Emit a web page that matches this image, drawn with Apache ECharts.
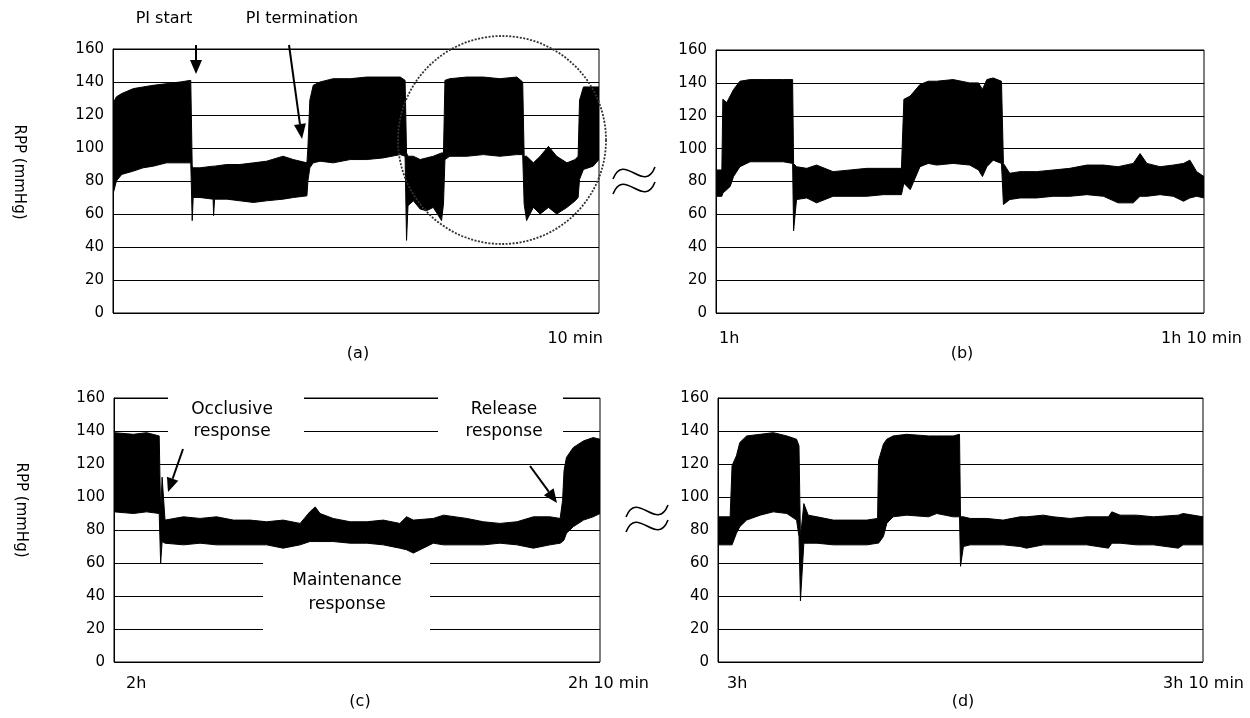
<!DOCTYPE html>
<html>
<head>
<meta charset="utf-8">
<script src="https://cdn.jsdelivr.net/npm/echarts@6/dist/echarts.min.js"></script>
<style>html,body{margin:0;padding:0;background:#fff}#chart{width:1250px;height:718px}</style>
</head>
<body>
<div id="chart"></div>
<script>
// ---- Data: time (min within each 10-min window), upper / lower envelope of RPP (mmHg) ----
const yTicks = [0, 20, 40, 60, 80, 100, 120, 140, 160];

const tA  = [0,0.07,0.18,0.42,0.62,0.83,1.10,1.38,1.60,1.63,1.65,1.79,2.06,2.07,2.09,2.34,2.61,2.89,3.16,3.50,3.71,3.99,4.01,4.05,4.12,4.26,4.53,4.88,5.22,5.56,5.91,6.01,6.04,6.07,6.18,6.32,6.45,6.59,6.76,6.80,6.83,6.93,7.28,7.62,7.96,8.31,8.43,8.46,8.51,8.65,8.79,8.96,9.13,9.34,9.51,9.57,9.60,9.68,9.88,10];
const hiA = [127,131,133,136,137,138,139,140,141,89,88,88,89,89,89,90,90,91,92,95,93,91,100,129,138,140,142,142,143,143,143,141,97,95,95,93,94,95,97,97,141,142,143,143,142,143,140,95,95,91,95,101,95,91,93,95,129,137,137,137];
const loA = [72,80,84,86,88,89,91,91,91,56,70,70,69,59,69,69,68,67,68,69,70,71,80,88,91,92,91,93,93,94,96,95,44,65,68,63,62,64,56,66,93,95,95,96,95,96,96,66,56,64,60,64,60,64,68,70,81,87,89,93];

const tB  = [0,0.12,0.14,0.22,0.29,0.36,0.49,0.70,1.04,1.38,1.57,1.59,1.65,1.86,2.06,2.40,2.75,3.09,3.43,3.80,3.85,3.98,4.18,4.35,4.52,4.86,5.20,5.38,5.46,5.55,5.68,5.85,5.89,6.02,6.23,6.57,6.91,7.25,7.60,7.94,8.24,8.55,8.69,8.83,9.10,9.37,9.58,9.71,9.85,10];
const hiB = [87,87,130,128,132,136,141,142,142,142,142,91,89,88,90,86,87,88,88,88,130,132,139,141,141,142,140,140,136,142,143,141,91,85,86,86,87,88,90,90,89,91,97,91,89,90,91,93,86,83];
const loB = [71,71,73,75,77,83,89,92,92,92,91,50,69,70,67,71,71,71,72,72,79,75,89,91,90,91,90,87,83,89,93,91,66,69,70,70,71,71,72,71,67,67,71,71,72,71,68,70,71,70];

const tC  = [0,0.40,0.67,0.93,0.96,0.99,1.05,1.43,1.77,2.11,2.46,2.80,3.14,3.48,3.83,4.03,4.14,4.24,4.51,4.86,5.20,5.54,5.88,6.02,6.16,6.57,6.78,7.26,7.60,7.94,8.29,8.63,8.97,9.18,9.23,9.26,9.31,9.45,9.66,9.86,10];
const hiC = [139,138,139,137,90,112,86,88,87,88,86,86,85,86,84,91,94,90,87,85,85,86,84,88,86,87,89,87,85,84,85,88,88,87,98,116,124,130,134,136,135];
const loC = [91,90,91,90,60,73,72,71,72,71,71,71,71,69,71,73,73,73,73,72,72,71,69,68,66,72,71,71,71,72,71,69,71,72,73,74,78,82,86,88,90];

const tD  = [0,0.25,0.29,0.38,0.45,0.59,0.87,1.14,1.42,1.62,1.67,1.70,1.77,1.86,2.04,2.38,2.72,3.07,3.29,3.31,3.41,3.48,3.61,3.89,4.34,4.51,4.85,4.98,5.00,5.06,5.20,5.54,5.88,6.23,6.36,6.71,6.91,7.26,7.60,8.05,8.12,8.29,8.63,8.98,9.49,9.59,10];
const hiD = [88,88,119,125,133,137,138,139,137,135,131,75,96,89,88,86,86,86,87,122,132,135,137,138,137,137,137,138,88,88,87,87,86,88,88,89,88,87,88,88,91,89,89,88,89,90,88];
const loD = [71,71,71,78,82,86,89,91,90,86,76,37,72,72,72,71,71,71,72,72,76,84,88,89,88,90,88,88,58,70,71,71,71,70,69,71,71,71,71,69,72,72,71,71,69,71,71];

const startLabels = ['', '1h', '2h', '3h'];
const endLabels = ['10 min', '1h 10 min', '2h 10 min', '3h 10 min'];
const panelLabels = ['(a)', '(b)', '(c)', '(d)'];

// ---- Chart ----
const FONT = 'DejaVu Sans';
const chart = echarts.init(document.getElementById('chart'), null, {renderer: 'canvas'});

const grids = [
  {left: 113, top: 49, width: 486, height: 264},
  {left: 716, top: 50, width: 488, height: 263},
  {left: 114, top: 398, width: 486, height: 264},
  {left: 718, top: 398, width: 485, height: 264}
];
const panels = [[tA, hiA, loA], [tB, hiB, loB], [tC, hiC, loC], [tD, hiD, loD]];

// one filled band per panel: upper envelope forward, lower envelope back
function makeRender(T, H, L) {
  return function (params, api) {
    if (params.dataIndex !== 0) return null;
    const pts = [];
    for (let i = 0; i < T.length; i++) pts.push(api.coord([T[i], H[i]]));
    for (let i = T.length - 1; i >= 0; i--) pts.push(api.coord([T[i], L[i]]));
    return {
      type: 'polygon',
      shape: {points: pts},
      style: {fill: '#000', stroke: '#000', lineWidth: 1}
    };
  };
}

function arrow(x1, y1, x2, y2, head) {
  const ang = Math.atan2(y2 - y1, x2 - x1);
  const hl = head || 13, hw = 6;
  const bx = x2 - hl * Math.cos(ang), by = y2 - hl * Math.sin(ang);
  const nx = -Math.sin(ang) * hw, ny = Math.cos(ang) * hw;
  return [
    {type: 'line', z: 100, shape: {x1: x1, y1: y1, x2: bx, y2: by}, style: {stroke: '#000', lineWidth: 2}},
    {type: 'polygon', z: 100, shape: {points: [[x2, y2], [bx + nx, by + ny], [bx - nx, by - ny]]}, style: {fill: '#000'}}
  ];
}

function txt(x, y, s, size, align) {
  return {type: 'text', z: 100, x: x, y: y,
    style: {text: s, fill: '#000', font: (size || 15) + 'px "' + FONT + '"', textAlign: align || 'center', textVerticalAlign: 'middle'}};
}

function wave(x0, y0) {
  return {type: 'bezierCurve', z: 100,
    shape: {x1: x0, y1: y0 + 6, cpx1: x0 + 11, cpy1: y0 - 22, cpx2: x0 + 31, cpy2: y0 + 22, x2: x0 + 42, y2: y0 - 6},
    style: {stroke: '#000', lineWidth: 1.6, fill: null}};
}

const graphics = [];
// y-axis names
[[19, 172], [21, 510]].forEach(function (p) {
  graphics.push({type: 'text', z: 100, x: p[0], y: p[1], rotation: -Math.PI / 2,
    style: {text: 'RPP (mmHg)', fill: '#000', font: '15px "' + FONT + '"', textAlign: 'center', textVerticalAlign: 'middle'}});
});
// start/end/panel labels
const startPos = [null, [719, 339], [126, 684], [727, 684]];
const endPos = [[603, 339], [1242, 339], [649, 684], [1244, 684]];
const panelPos = [[358, 354], [962, 354], [360, 702], [963, 702]];
for (let k = 0; k < 4; k++) {
  if (startPos[k]) graphics.push(txt(startPos[k][0], startPos[k][1], startLabels[k], 16, 'left'));
  graphics.push(txt(endPos[k][0], endPos[k][1], endLabels[k], 16, 'right'));
  graphics.push(txt(panelPos[k][0], panelPos[k][1], panelLabels[k], 16, 'center'));
}
// panel (a) annotations
graphics.push(txt(164, 19, 'PI start', 16));
graphics.push(txt(302, 19, 'PI termination', 16));
graphics.push.apply(graphics, arrow(196, 45, 196, 74, 14));
graphics.push.apply(graphics, arrow(289, 45, 302, 139, 15));
graphics.push({type: 'circle', z: 99, shape: {cx: 502, cy: 140, r: 104},
  style: {fill: null, stroke: '#333', lineWidth: 1.8, lineDash: [2, 1.5]}});
// break symbols
graphics.push(wave(613, 173), wave(613, 188));
graphics.push(wave(626, 511), wave(626, 526));
// panel (c) annotations with white boxes hiding the grid lines
graphics.push({type: 'rect', z: 98, shape: {x: 168, y: 392, width: 136, height: 54}, style: {fill: '#fff'}});
graphics.push({type: 'rect', z: 98, shape: {x: 438, y: 392, width: 125, height: 54}, style: {fill: '#fff'}});
graphics.push({type: 'rect', z: 98, shape: {x: 263, y: 557, width: 167, height: 82}, style: {fill: '#fff'}});
graphics.push(txt(232, 410, 'Occlusive', 17), txt(232, 432, 'response', 17));
graphics.push(txt(504, 410, 'Release', 17), txt(504, 432, 'response', 17));
graphics.push(txt(347, 581, 'Maintenance', 17), txt(347, 605, 'response', 17));
graphics.push.apply(graphics, arrow(183, 449, 168, 492, 14));
graphics.push.apply(graphics, arrow(530, 466, 557, 503, 14));

const option = {
  animation: false,
  backgroundColor: '#fff',
  textStyle: {fontFamily: FONT},
  grid: grids.map(function (g) {
    return Object.assign({show: true, borderColor: '#000', borderWidth: 1, backgroundColor: 'transparent', containLabel: false}, g);
  }),
  xAxis: grids.map(function (g, i) {
    return {type: 'value', gridIndex: i, min: 0, max: 10, show: false};
  }),
  yAxis: grids.map(function (g, i) {
    return {
      type: 'value', gridIndex: i, min: yTicks[0], max: yTicks[yTicks.length - 1], interval: 20,
      axisLine: {show: true, lineStyle: {color: '#000', width: 1}},
      axisTick: {show: false},
      axisLabel: {color: '#000', fontSize: 15, margin: 9, fontFamily: FONT},
      splitLine: {show: true, lineStyle: {color: '#000', width: 1}}
    };
  }),
  series: panels.map(function (p, i) {
    return {
      type: 'custom', xAxisIndex: i, yAxisIndex: i, clip: true, z: 5,
      renderItem: makeRender(p[0], p[1], p[2]),
      encode: {x: 0, y: [1, 2]},
      data: p[0].map(function (t, j) { return [t, p[1][j], p[2][j]]; })
    };
  }),
  graphic: graphics
};
chart.setOption(option);
</script>
</body>
</html>
